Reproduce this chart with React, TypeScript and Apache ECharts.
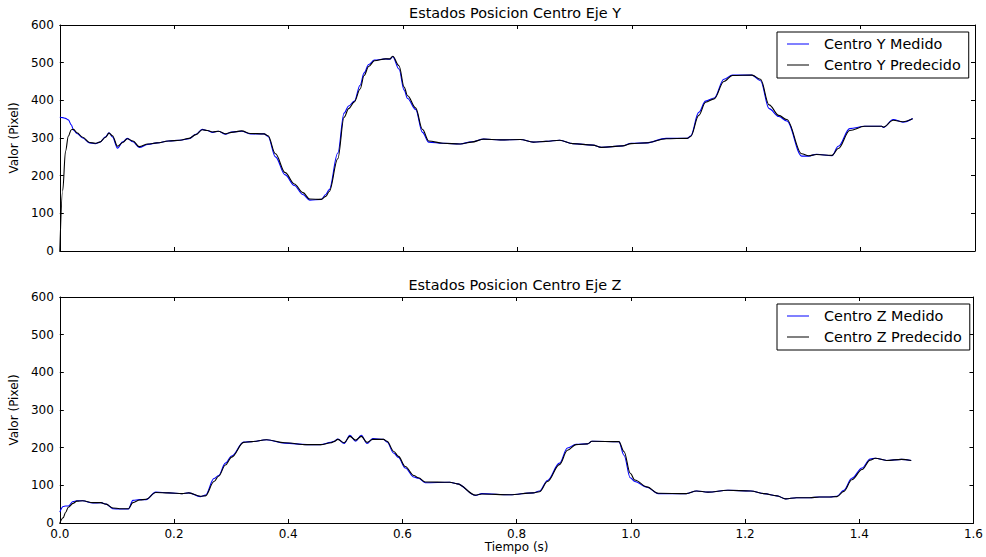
import React, { useEffect, useRef } from "react";
import * as echarts from "echarts";

// Eje Y: tiempo (s), centro medido y centro predecido (pixel)
const tiempoY = [
  0.0, 0.005, 0.01, 0.015, 0.02, 0.024, 0.03, 0.04, 0.052, 0.062, 0.07, 0.08, 0.086, 0.092, 0.101,
  0.11, 0.118, 0.128, 0.139, 0.154, 0.17, 0.19, 0.21, 0.226, 0.238, 0.249, 0.258, 0.267, 0.277,
  0.29, 0.3, 0.318, 0.333, 0.357, 0.364, 0.377, 0.394, 0.41, 0.425, 0.437, 0.457, 0.465, 0.471,
  0.486, 0.497, 0.505, 0.515, 0.525, 0.532, 0.54, 0.55, 0.57, 0.577, 0.582, 0.593, 0.602, 0.608,
  0.622, 0.634, 0.645, 0.67, 0.7, 0.72, 0.741, 0.77, 0.805, 0.828, 0.85, 0.874, 0.897, 0.932,
  0.947, 0.984, 0.999, 1.025, 1.06, 1.097, 1.103, 1.117, 1.129, 1.144, 1.161, 1.176, 1.21, 1.225,
  1.24, 1.257, 1.271, 1.297, 1.309, 1.323, 1.35, 1.361, 1.381, 1.407, 1.437, 1.44, 1.457, 1.474,
  1.491,
];
const centroYMedido = [
  355, 354, 352, 348, 335, 321, 312, 300, 287, 285, 289, 303, 314, 303, 273,
  290, 299, 290, 275, 283, 287, 292, 294, 298, 310, 323, 320, 315, 318,
  310, 316, 318, 311, 311, 304, 250, 202, 174, 150, 135, 137, 150, 163,
  260, 366, 385, 398, 440, 473, 495, 507, 510, 509, 516, 483, 427, 405,
  376, 315, 289, 286, 284, 290, 297, 295, 296, 289, 291, 294, 285, 281,
  275, 279, 286, 287, 299, 299, 306, 368, 398, 406, 456, 467, 467, 452,
  378, 357, 345, 252, 252, 257, 253, 278, 325, 331, 331, 328, 349, 342,
  352,
];
const centroYPredecido = [
  0, 160, 265, 305, 322, 323, 314, 302, 288, 286, 289, 302, 313, 306, 278,
  288, 298, 292, 277, 284, 287, 292, 294, 299, 309, 322, 320, 316, 318,
  311, 315, 319, 312, 311, 306, 258, 208, 178, 155, 138, 137, 145, 158,
  245, 355, 378, 396, 430, 466, 490, 505, 510, 510, 517, 492, 435, 412,
  380, 323, 292, 286, 284, 289, 297, 295, 296, 289, 291, 294, 285, 281,
  275, 279, 285, 287, 298, 299, 304, 360, 395, 404, 450, 466, 467, 456,
  388, 360, 349, 258, 253, 256, 254, 272, 320, 331, 331, 329, 347, 343,
  351,
];

// Eje Z: tiempo (s), centro medido y centro predecido (pixel)
const tiempoZ = [
  0.0, 0.006, 0.01, 0.015, 0.023, 0.03, 0.04, 0.058, 0.072, 0.081, 0.093, 0.105, 0.12, 0.128,
  0.14, 0.151, 0.168, 0.191, 0.214, 0.226, 0.246, 0.255, 0.27, 0.278, 0.29, 0.301, 0.322, 0.336,
  0.362, 0.394, 0.433, 0.457, 0.475, 0.48, 0.487, 0.498, 0.508, 0.518, 0.528, 0.538, 0.548,
  0.567, 0.573, 0.585, 0.593, 0.605, 0.62, 0.628, 0.64, 0.683, 0.696, 0.728, 0.739, 0.788,
  0.829, 0.84, 0.854, 0.875, 0.889, 0.904, 0.924, 0.932, 0.979, 0.988, 0.999, 1.007, 1.028,
  1.048, 1.097, 1.115, 1.135, 1.17, 1.21, 1.233, 1.256, 1.271, 1.29, 1.313, 1.33, 1.348, 1.361,
  1.373, 1.387, 1.405, 1.419, 1.428, 1.448, 1.474, 1.491,
];
const centroZMedido = [
  29, 44, 45, 45, 57, 59, 59, 53, 54, 50, 38, 37, 37, 60,
  62, 62, 82, 80, 78, 80, 70, 74, 118, 126, 159, 178, 215, 216,
  221, 212, 208, 208, 214, 217, 223, 211, 233, 217, 233, 211, 224,
  222, 215, 185, 174, 146, 122, 119, 107, 108, 104, 73, 78, 75,
  80, 85, 113, 159, 199, 209, 210, 217, 216, 180, 120, 110, 95,
  78, 78, 85, 82, 87, 85, 78, 72, 64, 67, 67, 69, 69, 71,
  87, 119, 146, 170, 172, 166, 169, 166,
];
const centroZPredecido = [
  0, 14, 28, 42, 52, 58, 59, 54, 54, 50, 40, 38, 38, 54,
  61, 63, 81, 80, 78, 80, 71, 72, 110, 124, 154, 175, 214, 216,
  221, 213, 208, 208, 213, 216, 222, 213, 230, 220, 230, 214, 222,
  222, 217, 190, 177, 150, 126, 120, 109, 108, 104, 74, 77, 75,
  80, 83, 110, 155, 193, 208, 210, 217, 216, 190, 132, 114, 96,
  79, 78, 85, 82, 87, 85, 78, 72, 64, 67, 67, 69, 69, 70,
  84, 115, 142, 167, 172, 166, 169, 166,
];

const tickLabelsX = ["0.0", "0.2", "0.4", "0.6", "0.8", "1.0", "1.2", "1.4", "1.6"];

const FONT = "DejaVu Sans";

const pairs = (t: number[], v: number[]) => t.map((x, i) => [x, v[i]]);

const frameColor = "#000";

function xAxisFor(gridIndex: number, position: "bottom" | "top", showLabels: boolean, name?: string) {
  return {
    type: "value" as const,
    gridIndex,
    position,
    min: 0,
    max: 1.6,
    interval: 0.2,
    name,
    nameLocation: "middle" as const,
    nameGap: 18,
    nameTextStyle: { fontFamily: FONT, fontSize: 12, color: "#000" },
    axisLine: { show: true, onZero: false, lineStyle: { color: frameColor, width: 1 } },
    axisTick: { show: true, inside: true, length: 4, lineStyle: { color: frameColor, width: 1 } },
    axisLabel: {
      show: showLabels,
      margin: 5,
      fontFamily: FONT,
      fontSize: 12,
      color: "#000",
      showMinLabel: true,
      showMaxLabel: true,
      formatter: (v: number) => tickLabelsX[Math.round(v / 0.2)] ?? "",
    },
    splitLine: { show: false },
  };
}

function yAxisFor(gridIndex: number, position: "left" | "right", showLabels: boolean) {
  return {
    type: "value" as const,
    gridIndex,
    position,
    min: 0,
    max: 600,
    interval: 100,
    name: showLabels ? "Valor (Pixel)" : undefined,
    nameLocation: "middle" as const,
    nameGap: 28,
    nameTextStyle: { fontFamily: FONT, fontSize: 12, color: "#000" },
    axisLine: { show: true, onZero: false, lineStyle: { color: frameColor, width: 1 } },
    axisTick: { show: true, inside: true, length: 4, lineStyle: { color: frameColor, width: 1 } },
    axisLabel: { show: showLabels, margin: 6, fontFamily: FONT, fontSize: 12, color: "#000" },
    splitLine: { show: false },
  };
}

function lineSeries(name: string, data: number[][], color: string, xi: number, yi: number) {
  return {
    type: "line" as const,
    name,
    data,
    xAxisIndex: xi,
    yAxisIndex: yi,
    symbol: "none",
    showSymbol: false,
    smooth: 0.35,
    smoothMonotone: "x" as const,
    lineStyle: { color, width: 1.1 },
    itemStyle: { color },
  };
}

function legendFor(top: number, names: string[]) {
  return {
    data: names,
    orient: "vertical" as const,
    left: 777,
    top,
    align: "left" as const,
    itemWidth: 22,
    itemHeight: 14,
    itemGap: 7,
    padding: [5, 8, 6, 10],
    borderColor: "#000",
    borderWidth: 1,
    borderRadius: 0,
    backgroundColor: "#fff",
    icon: "path://M0,7L22,7L22,8L0,8Z",
    textStyle: { fontFamily: FONT, fontSize: 14.4, color: "#000", padding: [0, 0, 0, 10] },
  };
}

export default function App() {
  const ref = useRef<HTMLDivElement>(null);

  useEffect(() => {
    if (!ref.current) return;
    const chart = echarts.init(ref.current, undefined, { renderer: "svg" });
    chart.setOption({
      animation: false,
      backgroundColor: "#fff",
      textStyle: { fontFamily: FONT },
      title: [
        {
          text: "Estados Posicion Centro Eje Y",
          left: 515,
          top: 6,
          textAlign: "center",
          padding: 0,
          textStyle: { fontFamily: FONT, fontSize: 14.4, fontWeight: "normal", color: "#000" },
        },
        {
          text: "Estados Posicion Centro Eje Z",
          left: 515,
          top: 278,
          textAlign: "center",
          padding: 0,
          textStyle: { fontFamily: FONT, fontSize: 14.4, fontWeight: "normal", color: "#000" },
        },
      ],
      grid: [
        { left: 54, right: 11, top: 25, height: 226, containLabel: false },
        { left: 54, right: 11, top: 297, height: 226, containLabel: false },
      ],
      xAxis: [
        xAxisFor(0, "bottom", false),
        xAxisFor(0, "top", false),
        xAxisFor(1, "bottom", true, "Tiempo (s)"),
        xAxisFor(1, "top", false),
      ],
      yAxis: [
        yAxisFor(0, "left", true),
        yAxisFor(0, "right", false),
        yAxisFor(1, "left", true),
        yAxisFor(1, "right", false),
      ],
      legend: [
        legendFor(32, ["Centro Y Medido", "Centro Y Predecido"]),
        legendFor(304, ["Centro Z Medido", "Centro Z Predecido"]),
      ],
      series: [
        lineSeries("Centro Y Medido", pairs(tiempoY, centroYMedido), "#0000ff", 0, 0),
        lineSeries("Centro Y Predecido", pairs(tiempoY, centroYPredecido), "#000000", 0, 0),
        lineSeries("Centro Z Medido", pairs(tiempoZ, centroZMedido), "#0000ff", 2, 2),
        lineSeries("Centro Z Predecido", pairs(tiempoZ, centroZPredecido), "#000000", 2, 2),
      ],
    });
    return () => chart.dispose();
  }, []);

  return (
    <div
      ref={ref}
      style={{ position: "fixed", left: 0, top: 0, width: 986, height: 557, background: "#fff" }}
    />
  );
}
